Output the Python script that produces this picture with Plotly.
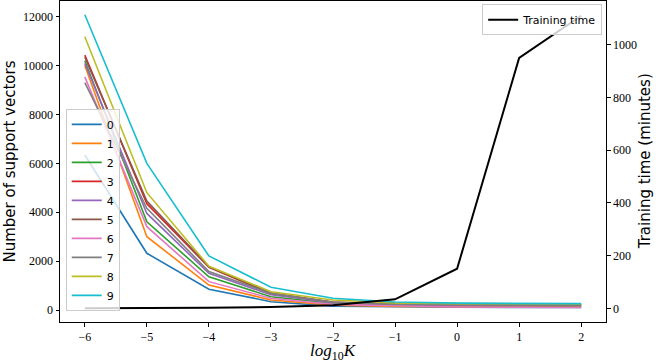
"""Support vectors per class and training time vs regularisation constant K."""

import plotly.graph_objects as go

log_k = [-6, -5, -4, -3, -2, -1, 0, 1, 2]

class_labels = ["0", "1", "2", "3", "4", "5", "6", "7", "8", "9"]
colors = ["#1f77b4", "#ff7f0e", "#2ca02c", "#d62728", "#9467bd",
          "#8c564b", "#e377c2", "#7f7f7f", "#bcbd22", "#17becf"]

sv_0 = [6340, 2320, 850, 340, 160, 120, 110, 105, 100]
sv_1 = [10000, 3000, 1020, 410, 200, 150, 140, 135, 130]
sv_2 = [10200, 3610, 1360, 545, 270, 200, 185, 180, 175]
sv_3 = [10430, 4350, 1750, 670, 320, 230, 215, 210, 205]
sv_4 = [10090, 3950, 1500, 620, 300, 210, 195, 190, 185]
sv_5 = [10340, 4460, 1770, 690, 330, 240, 225, 220, 215]
sv_6 = [9540, 3410, 1160, 480, 230, 160, 120, 110, 100]
sv_7 = [9300, 4160, 1570, 680, 320, 230, 215, 210, 205]
sv_8 = [11180, 4800, 1790, 750, 410, 290, 260, 250, 245]
sv_9 = [12080, 6000, 2210, 930, 480, 330, 280, 270, 260]
support_vectors = [sv_0, sv_1, sv_2, sv_3, sv_4, sv_5, sv_6, sv_7, sv_8, sv_9]

training_minutes = [0.5, 0.8, 2, 5, 12, 34, 150, 950, 1110]

sv_ticks = [0, 2000, 4000, 6000, 8000, 10000, 12000]
time_ticks = [0, 200, 400, 600, 800, 1000]

SERIF = "Liberation Serif"
SANS = "DejaVu Sans"

fig = go.Figure()

for label, color, values in zip(class_labels, colors, support_vectors):
    fig.add_trace(go.Scatter(
        x=log_k, y=values, name=label, mode="lines",
        line=dict(color=color, width=1.6),
        legend="legend",
    ))

fig.add_trace(go.Scatter(
    x=log_k, y=training_minutes, name="Training time", mode="lines",
    line=dict(color="black", width=2),
    yaxis="y2", legend="legend2",
))

axis_common = dict(
    showline=True, linecolor="black", linewidth=1,
    ticks="outside", ticklen=3.5, tickwidth=1, tickcolor="black",
    showgrid=False, zeroline=False, automargin=False,
    tickfont=dict(family=SERIF, size=12, color="black"),
)

fig.update_layout(
    width=664, height=363,
    margin=dict(l=60, r=58, t=1, b=41),
    plot_bgcolor="white", paper_bgcolor="white",
    xaxis=dict(
        range=[-6.4, 2.4], tickvals=log_k, mirror=True,
        **axis_common,
    ),
    yaxis=dict(
        range=[-491, 12642], tickvals=sv_ticks,
        ticktext=[str(v) for v in sv_ticks],
        **axis_common,
    ),
    yaxis2=dict(
        range=[-52, 1166], tickvals=time_ticks,
        ticktext=[str(v) for v in time_ticks],
        overlaying="y", side="right",
        **axis_common,
    ),
    legend=dict(
        x=0.0105, y=0.664, xanchor="left", yanchor="top",
        bgcolor="rgba(255,255,255,0.8)", bordercolor="#cccccc", borderwidth=1,
        font=dict(family=SANS, size=11, color="black"),
        tracegroupgap=0,
    ),
    legend2=dict(
        x=0.993, y=0.99, xanchor="right", yanchor="top",
        bgcolor="rgba(255,255,255,0.8)", bordercolor="#cccccc", borderwidth=1,
        font=dict(family=SANS, size=11, color="black"),
    ),
)

# Axis titles placed by hand so nothing gets clipped
fig.add_annotation(
    text="<i>log</i><sub>10</sub><i>K</i>", x=0.5, y=-0.0935,
    xref="paper", yref="paper", xanchor="center", yanchor="middle",
    showarrow=False, font=dict(family=SERIF, size=17, color="black"),
)
fig.add_annotation(
    text="Number of support vectors", x=-0.0916, y=0.5,
    xref="paper", yref="paper", xanchor="center", yanchor="middle",
    textangle=-90, showarrow=False,
    font=dict(family=SANS, size=15, color="black"),
)
fig.add_annotation(
    text="Training time (minutes)", x=1.071, y=0.5,
    xref="paper", yref="paper", xanchor="center", yanchor="middle",
    textangle=-90, showarrow=False,
    font=dict(family=SANS, size=15, color="black"),
)

# drop the browser's default 8px body margin so the figure sits at (0, 0)
fig.write_html(
    "out.html",
    config={"displayModeBar": False},
    post_script="document.body.style.margin = '0';",
)
